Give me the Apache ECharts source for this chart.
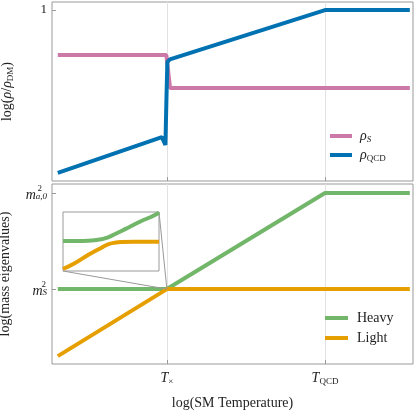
<!DOCTYPE html>
<html>
<head>
<meta charset="utf-8">
<script src="https://cdn.jsdelivr.net/npm/echarts@6/dist/echarts.min.js"></script>
<style>
  html, body { margin: 0; padding: 0; background: #fff; }
  #main { width: 415px; height: 413px; }
</style>
</head>
<body>
<div id="main"></div>
<script>
// log(SM temperature), units chosen so T_x = 0
const tempTicks = [0, 3]
const tempTickNames = ['{i|T}{subn|×}', '{i|T}{subn|QCD}']

// top panel: log(rho / rho_DM)
const rhoTicks = [1]
const rhoSX = [-2.07, -0.01, 0.06, 4.61]
const rhoSY = [0.737, 0.737, 0.544, 0.544]
const rhoQcdX = [-2.07, -0.095, -0.028, -0.009, 0.009, 0.057, 3, 4.61]
const rhoQcdY = [0.047, 0.257, 0.211, 0.474, 0.696, 0.711, 1, 1]

// bottom panel: log(mass eigenvalues), m_S^2 -> 0, m_a0^2 -> 1
const massTicks = [0, 1]
const heavyX = [-2.07, 0, 3, 4.61]
const heavyY = [0, 0, 1, 1]
const lightX = [-2.07, 0, 4.61]
const lightY = [-0.698, 0, 0]

// inset: close-up of the level crossing
const insetHeavyX = [0, 25, 38.4, 45, 51.7, 58.4, 65, 71.7, 78.4, 88.4, 96]
const insetHeavyY = [30, 30.3, 31.7, 33.7, 36.7, 40, 43.3, 46.7, 50, 54.3, 58.3]
const insetLightX = [0, 11.7, 25, 38.4, 45, 51.7, 58.4, 71.7, 96]
const insetLightY = [2, 7.7, 16, 23.3, 26.7, 28.3, 29, 29.3, 29.3]

const SERIF = 'Liberation Serif'
const FRAME = '#999'
const COLORS = { rhoS: '#cc79a7', rhoQcd: '#0072b2', heavy: '#72b66a', light: '#e69f00' }

const rich = {
  i: { fontFamily: SERIF, fontStyle: 'italic', fontSize: 14, lineHeight: 16, color: '#222' },
  sub: { fontFamily: SERIF, fontStyle: 'italic', fontSize: 9, lineHeight: 9, padding: [6, 0, 0, 0], verticalAlign: 'bottom', color: '#222' },
  subn: { fontFamily: SERIF, fontSize: 9, lineHeight: 9, padding: [6, 0, 0, 0], verticalAlign: 'bottom', color: '#222' },
  m: { fontFamily: SERIF, fontStyle: 'italic', fontSize: 14, lineHeight: 12, color: '#222' },
  sp0: { fontFamily: SERIF, fontSize: 9, lineHeight: 4, padding: [4, 1, 0, 0], color: '#222' },
  sp1: { fontFamily: SERIF, fontSize: 9, lineHeight: 4, padding: [4, 5, 0, 0], color: '#222' },
}

function zip(xs, ys) {
  return xs.map((x, k) => [x, ys[k]])
}

const chart = echarts.init(document.getElementById('main'))

const xCommon = {
  type: 'value',
  min: -2.18,
  max: 4.67,
  axisLine: { show: false, onZero: false },
  axisTick: { show: true, inside: true, length: 4, lineStyle: { color: FRAME }, customValues: tempTicks },
  splitLine: { show: true, lineStyle: { color: '#e2e2e2', width: 1 } },
}

const options = {
  animation: false,
  backgroundColor: '#fff',
  grid: [
    { left: 52, top: 2, right: 2, height: 179, show: true, borderColor: FRAME, borderWidth: 1, outerBoundsMode: 'none' },
    { left: 52, top: 184, right: 2, height: 180, show: true, borderColor: FRAME, borderWidth: 1, outerBoundsMode: 'none' },
    { left: 63, top: 212, width: 96, height: 59, show: true, borderColor: FRAME, borderWidth: 1, backgroundColor: '#fff', z: 5, outerBoundsMode: 'none' },
  ],
  xAxis: [
    Object.assign({}, xCommon, { gridIndex: 0, axisLabel: { show: false } }),
    Object.assign({}, xCommon, {
      gridIndex: 1,
      axisLabel: {
        customValues: tempTicks,
        margin: 6,
        formatter: (v) => tempTickNames[tempTicks.indexOf(v)],
        rich: rich,
      },
      name: 'log(SM Temperature)',
      nameLocation: 'middle',
      nameGap: 32,
      nameTextStyle: { fontFamily: SERIF, fontSize: 14, color: '#222' },
    }),
    { gridIndex: 2, type: 'value', min: 0, max: 96, show: false },
  ],
  yAxis: [
    {
      gridIndex: 0,
      type: 'value',
      min: 0,
      max: 1.047,
      axisLine: { show: false, onZero: false },
      splitLine: { show: false },
      axisTick: { show: true, inside: true, length: 4, lineStyle: { color: FRAME }, customValues: rhoTicks },
      axisLabel: { customValues: rhoTicks, fontFamily: SERIF, fontSize: 13, color: '#222', margin: 5 },
      name: 'log({i|ρ}/{i|ρ}{subn|DM})',
      nameLocation: 'middle',
      nameGap: 37,
      nameTextStyle: { fontFamily: SERIF, fontSize: 14, color: '#222', rich: rich },
    },
    {
      gridIndex: 1,
      type: 'value',
      min: -0.78,
      max: 1.094,
      axisLine: { show: false, onZero: false },
      splitLine: { show: false },
      axisTick: { show: true, inside: true, length: 4, lineStyle: { color: FRAME }, customValues: massTicks },
      axisLabel: {
        customValues: massTicks,
        margin: 5,
        formatter: (v) => (v === 1 ? '{sp1|2}\n{m|m}{sub|a,0}' : '{sp0|2}\n{m|m}{sub|S}'),
        rich: rich,
      },
      name: 'log(mass eigenvalues)',
      nameLocation: 'middle',
      nameGap: 40,
      nameTextStyle: { fontFamily: SERIF, fontSize: 14, color: '#222' },
    },
    { gridIndex: 2, type: 'value', min: 0, max: 59, show: false },
  ],
  legend: [
    {
      data: ['rhoS', 'rhoQcd'],
      orient: 'vertical',
      left: 325,
      top: 124,
      icon: 'rect',
      itemWidth: 22,
      itemHeight: 4,
      itemGap: 4,
      formatter: (n) => (n === 'rhoS' ? '{i|ρ}{sub|S}' : '{i|ρ}{subn|QCD}'),
      textStyle: { rich: rich, padding: [0, 0, 0, 3] },
    },
    {
      data: ['Heavy', 'Light'],
      orient: 'vertical',
      left: 320,
      top: 306,
      icon: 'rect',
      itemWidth: 23,
      itemHeight: 4,
      itemGap: 6,
      textStyle: { fontFamily: SERIF, fontSize: 14, color: '#222', padding: [0, 0, 0, 4] },
    },
  ],
  series: [],
}

const lineSeries = [
  { name: 'rhoS', grid: 0, color: COLORS.rhoS, data: zip(rhoSX, rhoSY) },
  { name: 'rhoQcd', grid: 0, color: COLORS.rhoQcd, data: zip(rhoQcdX, rhoQcdY) },
  { name: 'Heavy', grid: 1, color: COLORS.heavy, data: zip(heavyX, heavyY) },
  { name: 'Light', grid: 1, color: COLORS.light, data: zip(lightX, lightY) },
  { name: 'insetHeavy', grid: 2, color: COLORS.heavy, data: zip(insetHeavyX, insetHeavyY), smooth: 0.4 },
  { name: 'insetLight', grid: 2, color: COLORS.light, data: zip(insetLightX, insetLightY), smooth: 0.4 },
]

lineSeries.forEach((s) => {
  options.series.push({
    name: s.name,
    type: 'line',
    xAxisIndex: s.grid,
    yAxisIndex: s.grid,
    data: s.data,
    symbol: 'none',
    smooth: s.smooth || false,
    color: s.color,
    lineStyle: { width: 4, color: s.color },
    z: s.grid === 2 ? 6 : 2,
    silent: true,
  })
})

chart.setOption(options)

// connector lines from the inset corners to the crossing point
const cross = chart.convertToPixel({ xAxisIndex: 1, yAxisIndex: 1 }, [heavyX[1], heavyY[1]])
const insetLowLeft = chart.convertToPixel({ xAxisIndex: 2, yAxisIndex: 2 }, [0, 0])
const insetTopRight = chart.convertToPixel({ xAxisIndex: 2, yAxisIndex: 2 }, [96, 59])
chart.setOption({
  graphic: [
    { type: 'line', z: 4, shape: { x1: insetLowLeft[0], y1: insetLowLeft[1], x2: cross[0], y2: cross[1] }, style: { stroke: FRAME, lineWidth: 1 } },
    { type: 'line', z: 4, shape: { x1: insetTopRight[0], y1: insetTopRight[1], x2: cross[0], y2: cross[1] }, style: { stroke: FRAME, lineWidth: 1 } },
  ],
})
</script>
</body>
</html>
